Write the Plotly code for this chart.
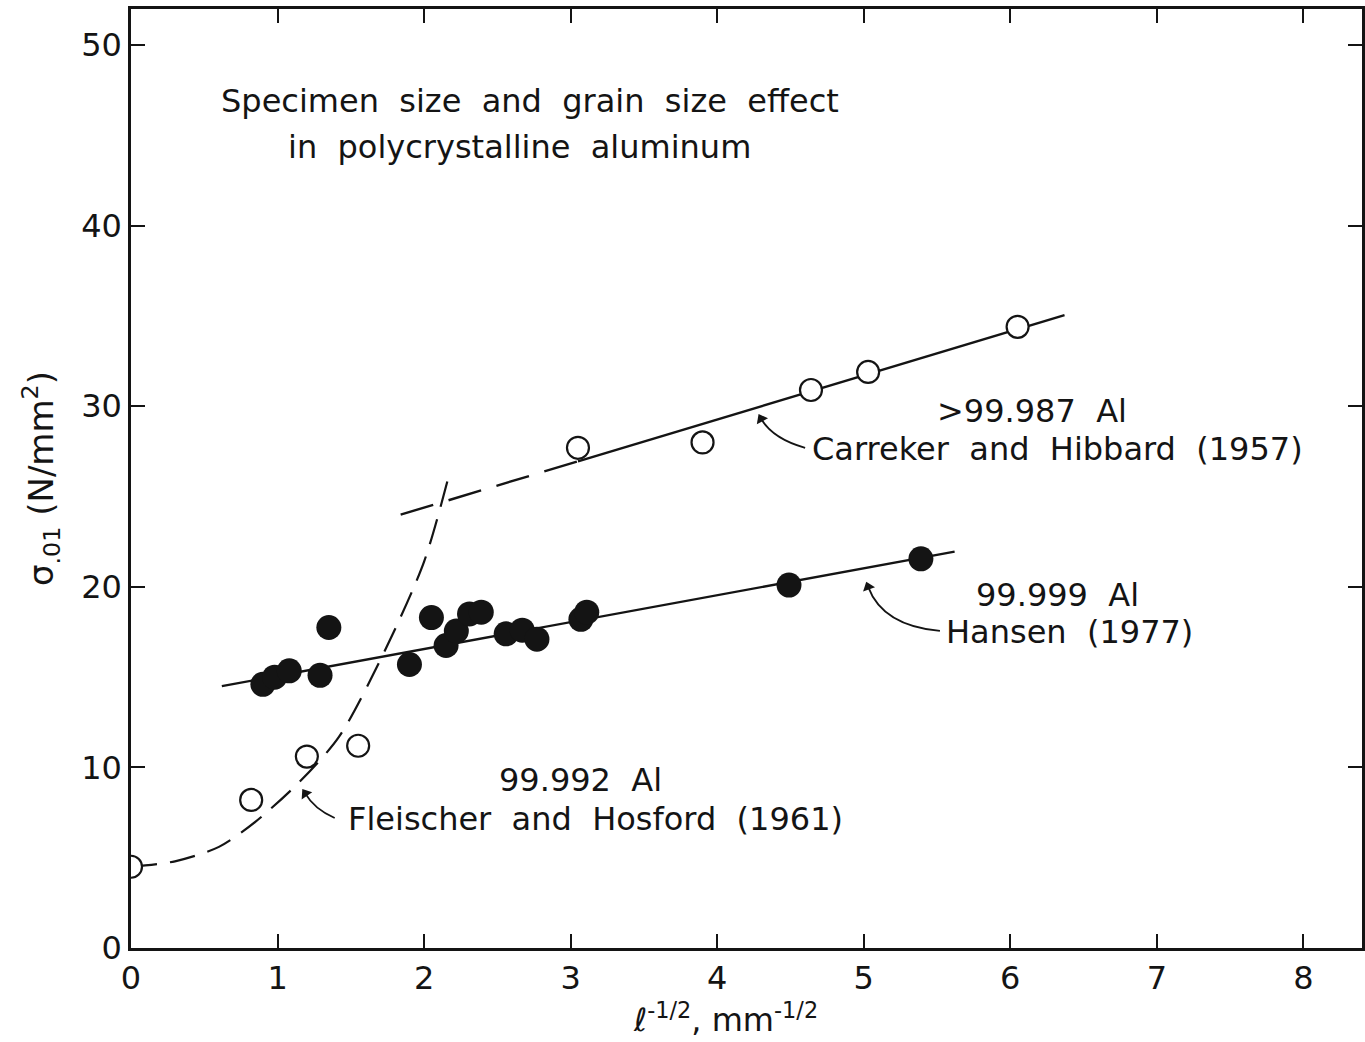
import plotly.graph_objects as go

# Fleischer and Hosford (1961), 99.992 Al  (open circles)
fh_x = [0.0, 0.82, 1.2, 1.55]
fh_y = [4.5, 8.2, 10.6, 11.2]
# dashed guide curve for Fleischer and Hosford
fh_curve_x = [0.0, 0.3, 0.6, 0.85, 1.15, 1.42, 1.74, 2.0, 2.18]
fh_curve_y = [4.5, 4.8, 5.6, 7.0, 9.2, 11.7, 16.6, 21.4, 26.5]

# Hansen (1977), 99.999 Al (filled circles)
h_x = [0.9, 0.98, 1.08, 1.29, 1.35, 1.9, 2.05, 2.15, 2.22, 2.31, 2.39, 2.56, 2.67, 2.77, 3.07, 3.11, 4.49, 5.39]
h_y = [14.6, 15.0, 15.35, 15.1, 17.75, 15.7, 18.3, 16.75, 17.55, 18.5, 18.6, 17.4, 17.6, 17.1, 18.2, 18.6, 20.1, 21.55]
h_line_x = [0.62, 5.62]
h_line_y = [14.5, 21.95]

# Carreker and Hibbard (1957), >99.987 Al (open circles)
ch_x = [3.05, 3.9, 4.64, 5.03, 6.05]
ch_y = [27.7, 28.0, 30.9, 31.9, 34.4]
ch_dash_x = [1.84, 3.05]
ch_dash_y = [24.0, 26.95]
ch_line_x = [3.05, 6.37]
ch_line_y = [26.95, 35.05]

x_ticks = [0, 1, 2, 3, 4, 5, 6, 7, 8]
y_ticks = [0, 10, 20, 30, 40, 50]

INK = "#141414"
FONT = "DejaVu Sans"

fig = go.Figure()

fig.add_trace(go.Scatter(x=fh_curve_x, y=fh_curve_y, mode="lines",
                         line=dict(color=INK, width=2.2, dash="26px,13px", shape="spline", smoothing=0.8),
                         hoverinfo="skip", showlegend=False))
fig.add_trace(go.Scatter(x=ch_dash_x, y=ch_dash_y, mode="lines",
                         line=dict(color=INK, width=2.4, dash="34px,16px"),
                         hoverinfo="skip", showlegend=False))
fig.add_trace(go.Scatter(x=ch_line_x, y=ch_line_y, mode="lines",
                         line=dict(color=INK, width=2.4),
                         hoverinfo="skip", showlegend=False))
fig.add_trace(go.Scatter(x=h_line_x, y=h_line_y, mode="lines",
                         line=dict(color=INK, width=2.4),
                         hoverinfo="skip", showlegend=False))

fig.add_trace(go.Scatter(x=h_x, y=h_y, mode="markers",
                         marker=dict(size=25, color=INK, line=dict(width=0)),
                         showlegend=False))
fig.add_trace(go.Scatter(x=fh_x, y=fh_y, mode="markers",
                         marker=dict(size=22, color="white", line=dict(width=2.2, color=INK)),
                         showlegend=False))
fig.add_trace(go.Scatter(x=ch_x, y=ch_y, mode="markers",
                         marker=dict(size=22, color="white", line=dict(width=2.2, color=INK)),
                         showlegend=False))

tfont = dict(family=FONT, size=32, color=INK)

def label(x, y, text, anchor="left"):
    fig.add_annotation(x=x, y=y, xref="x", yref="y", text=text, showarrow=False,
                       xanchor=anchor, yanchor="middle", font=tfont)

label(0.6, 46.9, "Specimen  size  and  grain  size  effect")
label(1.06, 44.35, "in  polycrystalline  aluminum")
label(6.15, 29.75, "&gt;99.987  Al", anchor="center")
label(4.63, 27.65, "Carreker  and  Hibbard  (1957)")
label(6.32, 19.55, "99.999  Al", anchor="center")
label(5.55, 17.5, "Hansen  (1977)")
label(3.07, 9.3, "99.992  Al", anchor="center")
label(1.47, 7.15, "Fleischer  and  Hosford  (1961)")

# curved leader lines ending in small arrowheads
leaders = [
    # start, control, tip, arrowhead angle (deg, clockwise from up)
    ((4.6, 27.7), (4.38, 28.2), (4.3, 29.3), -28),
    ((5.52, 17.56), (5.13, 17.84), (5.03, 20.0), -20),
    ((1.39, 7.2), (1.25, 7.7), (1.19, 8.55), -34),
]
head_x, head_y, head_a = [], [], []
for (x0, y0), (cx, cy), (x1, y1), ang in leaders:
    fig.add_shape(type="path", xref="x", yref="y",
                  path=f"M {x0},{y0} Q {cx},{cy} {x1},{y1}",
                  line=dict(color=INK, width=1.8))
    head_x.append(x1)
    head_y.append(y1)
    head_a.append(ang)
fig.add_trace(go.Scatter(x=head_x, y=head_y, mode="markers",
                         marker=dict(symbol="triangle-up", size=11, angle=head_a,
                                     color=INK, line=dict(width=0)),
                         hoverinfo="skip", showlegend=False))

# x-axis title (placed slightly left of centre, as in the original)
fig.add_annotation(x=0.483, y=-0.0745, xref="paper", yref="paper", showarrow=False,
                   text="<i>ℓ</i><sup>-1/2</sup>, mm<sup>-1/2</sup>",
                   xanchor="center", yanchor="middle",
                   font=dict(family=FONT, size=32, color=INK))

fig.update_xaxes(range=[0, 8.4], tickvals=x_ticks, ticktext=[str(v) for v in x_ticks],
                 showline=True, linecolor=INK, linewidth=2.5, mirror="ticks",
                 ticks="inside", ticklen=14, tickwidth=2.2, tickcolor=INK,
                 showgrid=False, zeroline=False,
                 tickfont=dict(family=FONT, size=32, color=INK))
fig.update_yaxes(range=[0, 52], tickvals=y_ticks, ticktext=[str(v) for v in y_ticks],
                 showline=True, linecolor=INK, linewidth=2.5, mirror="ticks",
                 ticks="inside", ticklen=14, tickwidth=2.2, tickcolor=INK,
                 showgrid=False, zeroline=False,
                 tickfont=dict(family=FONT, size=32, color=INK),
                 title=dict(text="σ<sub>.01</sub> (N/mm<sup>2</sup>)",
                            font=dict(family=FONT, size=34, color=INK), standoff=18))

fig.update_layout(width=1365, height=1042, margin=dict(l=131, r=0, t=9, b=94),
                  paper_bgcolor="white", plot_bgcolor="white")

fig.write_html("out.html")
